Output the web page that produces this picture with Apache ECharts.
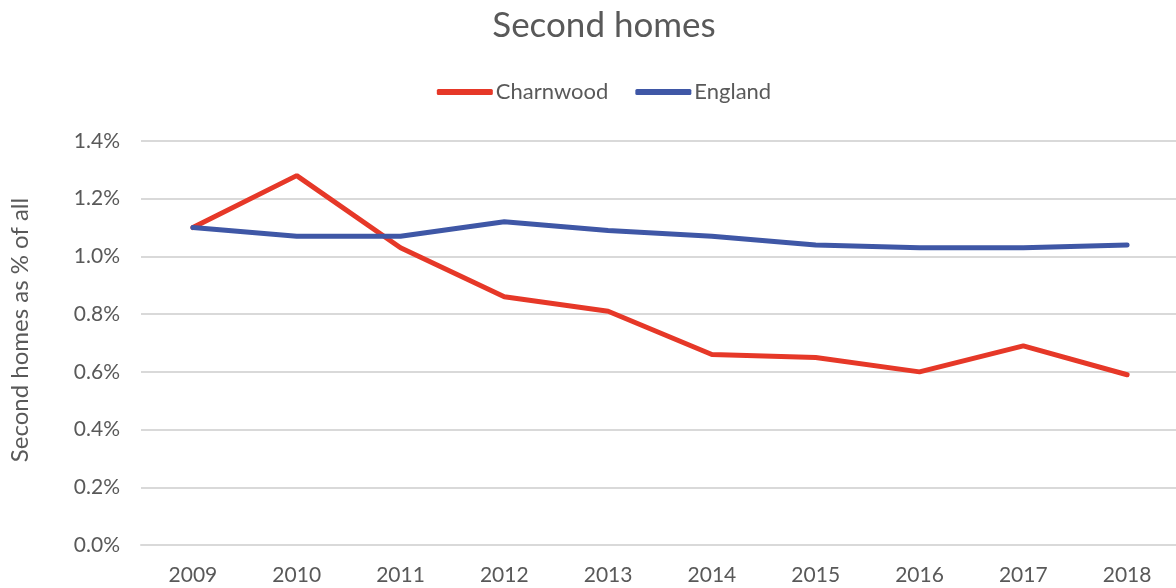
<!DOCTYPE html>
<html>
<head>
<meta charset="utf-8">
<script src="https://cdn.jsdelivr.net/npm/echarts@6/dist/echarts.min.js"></script>
<style>html,body{margin:0;padding:0;background:#fff;overflow:hidden;width:1176px;height:588px}#c{width:1208px;height:588px}</style>
</head>
<body>
<div id="c"></div>
<script>
const years = ['2009','2010','2011','2012','2013','2014','2015','2016','2017','2018'];
const charnwood = [0.0110, 0.0128, 0.0103, 0.0086, 0.0081, 0.0066, 0.0065, 0.0060, 0.0069, 0.0059];
const england = [0.0110, 0.0107, 0.0107, 0.0112, 0.0109, 0.0107, 0.0104, 0.0103, 0.0103, 0.0104];
const yTicks = {min: 0, max: 0.014, interval: 0.002};

const FONT = 'Lato, "Open Sans", sans-serif';
const chart = echarts.init(document.getElementById('c'));
chart.setOption({
  animation: false,
  backgroundColor: '#fff',
  title: {
    text: 'Second homes', left: 'center', top: 3,
    textStyle: {fontFamily: FONT, fontSize: 35, fontWeight: 'normal', color: '#595959'}
  },
  legend: {
    top: 76, left: 'center', itemWidth: 56, itemHeight: 6, itemGap: 27,
    icon: 'roundRect',
    textStyle: {fontFamily: FONT, fontSize: 22, color: '#595959', padding: [0,0,0,-2]},
    data: ['Charnwood', 'England']
  },
  grid: {left: 138, right: 29, top: 141, bottom: 43, containLabel: false},
  xAxis: {
    type: 'category', data: years, boundaryGap: true,
    axisLine: {show: true, lineStyle: {color: '#d9d9d9', width: 2}},
    axisTick: {show: false},
    axisLabel: {fontFamily: FONT, fontSize: 21, color: '#595959', margin: 20}
  },
  yAxis: {
    type: 'value', min: yTicks.min, max: yTicks.max, interval: yTicks.interval,
    name: 'Second homes as % of all', nameLocation: 'middle', nameGap: 109,
    nameTextStyle: {fontFamily: FONT, fontSize: 24, color: '#595959', padding: [0,0,0,26]},
    axisLine: {show: false}, axisTick: {show: false},
    splitLine: {lineStyle: {color: '#d9d9d9', width: 2}},
    axisLabel: {fontFamily: FONT, fontSize: 21, color: '#595959', margin: 21,
      formatter: v => (v * 100).toFixed(1) + '%'}
  },
  series: [
    {name: 'Charnwood', type: 'line', data: charnwood, symbol: 'none',
     itemStyle: {color: '#E63828'}, lineStyle: {width: 5, color: '#E63828', cap: 'round'}},
    {name: 'England', type: 'line', data: england, symbol: 'none',
     itemStyle: {color: '#3F57A6'}, lineStyle: {width: 5, color: '#3F57A6', cap: 'round'}}
  ]
});
</script>
</body>
</html>
